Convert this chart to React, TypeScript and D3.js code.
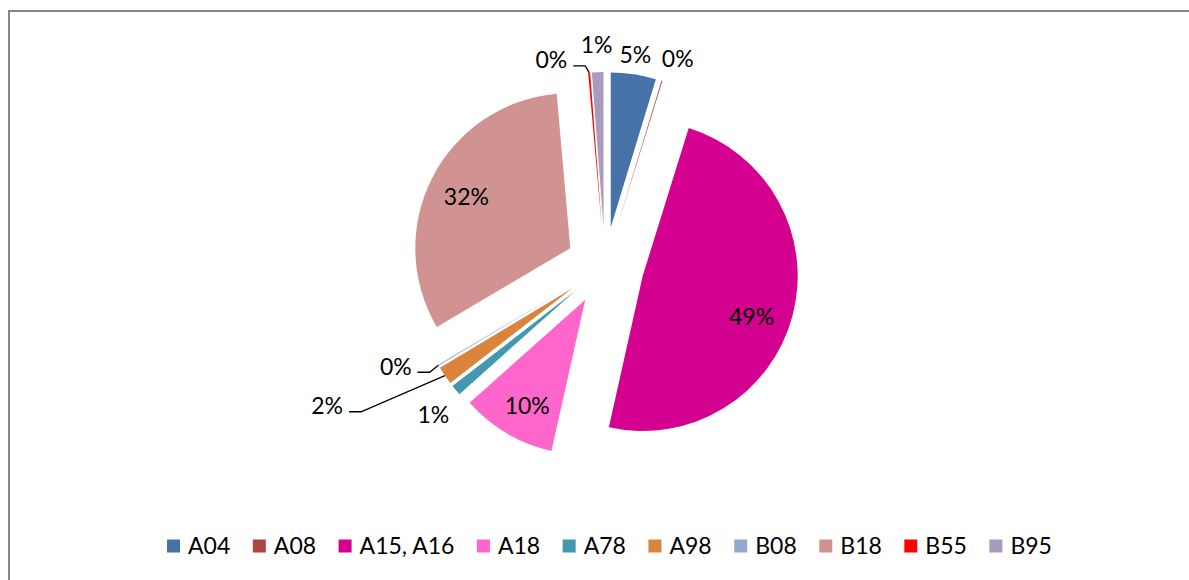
import React, { useEffect, useRef } from 'react';
import * as d3 from 'd3';

// Slice data (share of total)
const categories = ['A04', 'A08', 'A15, A16', 'A18', 'A78', 'A98', 'B08', 'B18', 'B55', 'B95'];
const values = [4.7, 0.1, 48.7, 9.9, 1.1, 1.9, 0.1, 32.1, 0.2, 1.2];
const colors = ['#4672A8', '#AA4643', '#D4008F', '#FF66CC', '#4198AF', '#DB843D', '#93A9CF', '#D19392', '#FF0000', '#A99BBD'];

// Label placement around the pie centre: [angle in degrees, radius in px], and whether a leader line is drawn
const labelAngles = [8.2, 19.3, 109, 209.1, 229.1, 243.3, 244.4, 296.6, 345.4, 357.8];
const labelRadii = [213, 220, 155, 160, 227, 311, 232, 155, 213, 221];
const hasLeader = [false, false, false, false, false, true, true, false, true, false];

const WIDTH = 1189;
const HEIGHT = 580;
const FONT = 'Lato, "Liberation Sans", Arial, sans-serif';

export default function App() {
  const svgRef = useRef<SVGSVGElement>(null);

  useEffect(() => {
    if (!svgRef.current) return;
    const svg = d3.select(svgRef.current);
    svg.selectAll('*').remove();

    // chart frame (only top and left edges are inside the picture)
    svg.append('rect')
      .attr('x', 9).attr('y', 11)
      .attr('width', WIDTH + 40).attr('height', HEIGHT + 40)
      .attr('fill', 'white')
      .attr('stroke', '#868686')
      .attr('stroke-width', 2);

    const cx = 605;
    const cy = 266;
    const radius = 155;
    const explode = 39;

    const total = d3.sum(values);
    const pie = d3.pie<number>().sort(null).value(d => d);
    const arcs = pie(values);
    const arc = d3.arc<d3.PieArcDatum<number>>().innerRadius(0).outerRadius(radius);

    const g = svg.append('g').attr('transform', `translate(${cx},${cy})`);

    arcs.forEach((a, i) => {
      const mid = (a.startAngle + a.endAngle) / 2;
      const ox = Math.sin(mid) * explode;
      const oy = -Math.cos(mid) * explode;
      g.append('path')
        .attr('d', arc(a) || '')
        .attr('transform', `translate(${ox},${oy})`)
        .attr('fill', colors[i]);
    });

    // data labels
    arcs.forEach((a, i) => {
      const ang = (labelAngles[i] * Math.PI) / 180;
      const lx = Math.sin(ang) * labelRadii[i];
      const ly = -Math.cos(ang) * labelRadii[i];
      const pct = Math.round((values[i] / total) * 100);
      const t = g.append('text')
        .attr('x', lx)
        .attr('y', ly)
        .attr('dy', '0.36em')
        .attr('text-anchor', 'middle')
        .attr('font-family', FONT)
        .attr('font-size', 23)
        .attr('fill', '#000')
        .text(`${pct}%`);

      if (hasLeader[i]) {
        const w = (t.node() as SVGTextElement).getComputedTextLength();
        const mid = (a.startAngle + a.endAngle) / 2;
        const px = Math.sin(mid) * (radius + explode);
        const py = -Math.cos(mid) * (radius + explode);
        const sx = lx + w / 2 + 6;
        const sy = ly + 6;
        g.append('polyline')
          .attr('points', `${sx},${sy} ${sx + 12},${sy} ${px},${py}`)
          .attr('fill', 'none')
          .attr('stroke', '#000')
          .attr('stroke-width', 1.3);
      }
    });

    // legend
    const legend = svg.append('g');
    const box = 13;
    const gap = 8;
    const itemGap = 22.5;
    let x = 0;
    categories.forEach((c, i) => {
      const item = legend.append('g').attr('transform', `translate(${x},0)`);
      item.append('rect')
        .attr('x', 0).attr('y', -box / 2)
        .attr('width', box).attr('height', box)
        .attr('fill', colors[i]);
      const t = item.append('text')
        .attr('x', box + gap)
        .attr('y', 0)
        .attr('dy', '0.36em')
        .attr('font-family', FONT)
        .attr('font-size', 23)
        .attr('fill', '#000')
        .text(c);
      const w = (t.node() as SVGTextElement).getComputedTextLength();
      x += box + gap + w + itemGap;
    });
    const legendWidth = x - itemGap;
    legend.attr('transform', `translate(${609.5 - legendWidth / 2},546)`);
  }, []);

  return (
    <svg
      ref={svgRef}
      width={WIDTH}
      height={HEIGHT}
      style={{ position: 'absolute', left: 0, top: 0, display: 'block', background: 'white' }}
    />
  );
}
